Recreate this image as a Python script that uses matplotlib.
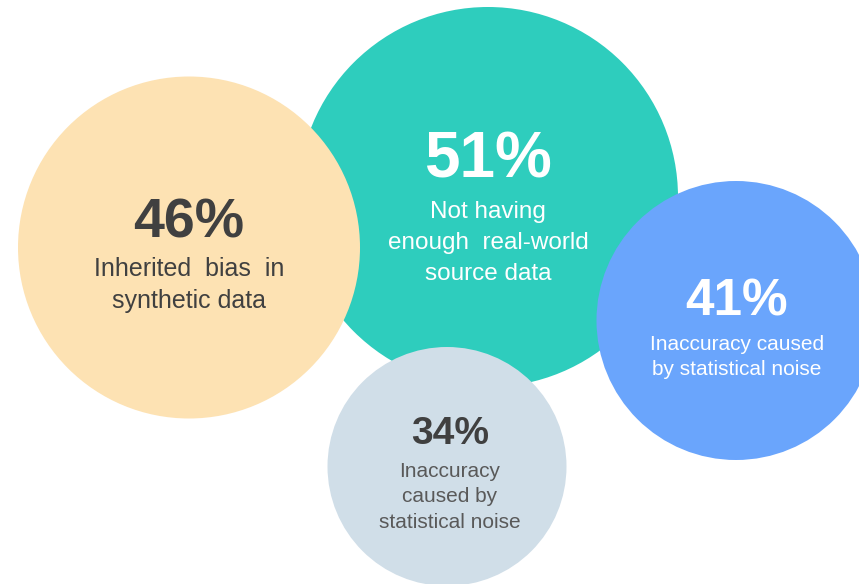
import matplotlib
matplotlib.use("Agg")
import matplotlib.pyplot as plt
from matplotlib.patches import Circle

# Data
values = ["51%", "46%", "34%", "41%"]
labels = [
    "Not having\nenough  real-world\nsource data",
    "Inherited  bias  in\nsynthetic data",
    "Inaccuracy\ncaused by\nstatistical noise",
    "Inaccuracy caused\nby statistical noise",
]

# Layout / style (pixel coordinates)
centers = [(488, 197), (189, 247.5), (447, 466.5), (736, 320.5)]
radii = [190, 171, 119.5, 139.5]
fills = ["#2ECDBD", "#FDE2B3", "#D0DEE8", "#6AA5FC"]
num_colors = ["white", "#404040", "#404040", "white"]
lab_colors = ["white", "#404040", "#595959", "white"]
num_sizes = [46, 40, 28, 37]
lab_sizes = [17.5, 18, 15, 15]
num_y = [160, 223, 434, 302]
lab_y = [243, 285, 497, 357]
lab_spacing = [1.55, 1.38, 1.44, 1.36]
text_x = [488, 189, 450, 737]

fig = plt.figure(figsize=(8.59, 5.84), dpi=100)
ax = fig.add_axes([0, 0, 1, 1])
ax.set_xlim(0, 859)
ax.set_ylim(584, 0)
ax.set_aspect("equal")
ax.axis("off")

for i in range(len(values)):
    ax.add_patch(Circle(centers[i], radii[i], facecolor=fills[i], edgecolor="none", zorder=i + 1))
    ax.text(text_x[i], num_y[i], values[i], ha="center", va="center",
            fontsize=num_sizes[i], fontweight="bold", color=num_colors[i],
            family="Liberation Sans", zorder=10)
    ax.text(text_x[i], lab_y[i], labels[i], ha="center", va="center",
            fontsize=lab_sizes[i], color=lab_colors[i], linespacing=lab_spacing[i],
            family="Liberation Sans", zorder=10)

fig.savefig("out.png", dpi=100)
